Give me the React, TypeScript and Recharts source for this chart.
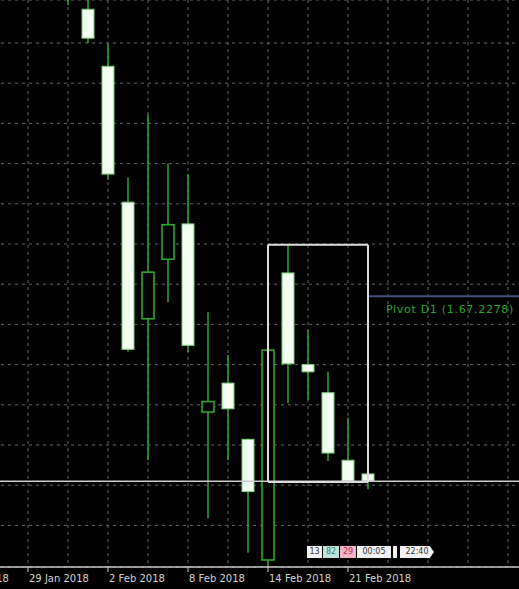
import { ComposedChart, Bar, XAxis, YAxis, CartesianGrid, ReferenceLine } from "recharts";

// daily bars, one category per trading day (the first few sit left of the visible area)
const dates = [
  "23 Jan 2018", "24 Jan 2018", "25 Jan 2018", "26 Jan 2018", "29 Jan 2018", "30 Jan 2018",
  "31 Jan 2018", "1 Feb 2018", "2 Feb 2018", "5 Feb 2018", "6 Feb 2018", "7 Feb 2018",
  "8 Feb 2018", "9 Feb 2018", "12 Feb 2018", "13 Feb 2018", "14 Feb 2018", "15 Feb 2018",
  "16 Feb 2018", "20 Feb 2018", "21 Feb 2018", "22 Feb 2018", "23 Feb 2018", "26 Feb 2018",
  "27 Feb 2018", "28 Feb 2018", "1 Mar 2018", "2 Mar 2018", "5 Mar 2018", "6 Mar 2018",
];
const labelDates = ["23 Jan 2018", "29 Jan 2018", "2 Feb 2018", "8 Feb 2018", "14 Feb 2018", "21 Feb 2018"];
const gridDates = dates.filter((_, i) => i % 2 === 0);

const candleDates = [
  "31 Jan 2018", "1 Feb 2018", "2 Feb 2018", "5 Feb 2018", "6 Feb 2018", "7 Feb 2018",
  "8 Feb 2018", "9 Feb 2018", "12 Feb 2018", "13 Feb 2018", "14 Feb 2018", "15 Feb 2018",
  "16 Feb 2018", "20 Feb 2018", "21 Feb 2018", "22 Feb 2018",
];
const opens = [1.4428, 1.4342, 1.4271, 1.4102, 1.3957, 1.4031, 1.4075, 1.3841, 1.3877, 1.3807, 1.3657, 1.4014, 1.39, 1.3865, 1.3781, 1.3764];
const highs = [1.4453, 1.4372, 1.4299, 1.4133, 1.4211, 1.415, 1.4137, 1.3965, 1.3912, 1.3808, 1.3919, 1.4049, 1.3943, 1.3891, 1.3834, 1.3766];
const lows = [1.4347, 1.43, 1.413, 1.3916, 1.3781, 1.3978, 1.3916, 1.3709, 1.3781, 1.3666, 1.3604, 1.3852, 1.3856, 1.378, 1.3753, 1.3745];
const closes = [1.4378, 1.4306, 1.4137, 1.3919, 1.4015, 1.4074, 1.3924, 1.3854, 1.3845, 1.3742, 1.3918, 1.3901, 1.3891, 1.379, 1.3755, 1.3755];

const priceTicks = [1.37, 1.375, 1.38, 1.385, 1.39, 1.395, 1.4, 1.405, 1.41, 1.415, 1.42, 1.425, 1.43];
const priceDomain = [1.364826, 1.435348];
const currentPrice = 1.3755;

const boxFrom = "14 Feb 2018";
const boxTo = "22 Feb 2018";
const boxTop = 1.4049;
const boxBottom = 1.3754;

const pivotPrice = 1.3985;
const pivotFrom = "22 Feb 2018";
const pivotTo = "6 Mar 2018";
const pivotLabel = "Pivot D1 (1.67.2278)";

const timerLabels = ["13", "82", "29", "00:05", "|", "22:40"];

const data = dates.map((date) => {
  const j = candleDates.indexOf(date);
  if (j < 0) return { date, range: null };
  return { date, open: opens[j], high: highs[j], low: lows[j], close: closes[j], range: [lows[j], highs[j]] };
});

const Candle = (props: any) => {
  const { x, y, width, height, payload } = props;
  if (!payload || payload.high == null) return null;
  const top = Math.min(y, y + height);
  const h = Math.abs(height);
  const px = h / (payload.high - payload.low);
  const toY = (p: number) => top + (payload.high - p) * px;
  const cx = x + width / 2;
  const bull = payload.close > payload.open;
  const bTop = toY(Math.max(payload.open, payload.close));
  const bBot = toY(Math.min(payload.open, payload.close));
  const bw = 12;
  return (
    <g>
      <line x1={cx} x2={cx} y1={top} y2={top + h} stroke="#2f9e2f" strokeWidth={1.6} />
      <rect
        x={cx - bw / 2}
        y={bTop}
        width={bw}
        height={Math.max(bBot - bTop, 2)}
        fill={bull ? "#000" : "#f3fff0"}
        stroke={bull ? "#2fa52f" : "#7fd07f"}
        strokeWidth={bull ? 1.6 : 1}
      />
    </g>
  );
};

const DateTick = (props: any) => {
  const { x, y, payload } = props;
  return (
    <text x={x + 1} y={y} dy={8} fill="#d2d2d2" fontSize={10} fontFamily="DejaVu Sans" textAnchor="start">
      {payload.value}
    </text>
  );
};

// vertical grid on every second day, placed through the x axis scale
const gridXs = (p: any) => {
  const scale = p.xAxis && p.xAxis.scale;
  if (scale && typeof scale === "function") {
    const bw = typeof scale.bandwidth === "function" ? scale.bandwidth() : 0;
    return gridDates.map((d) => scale(d) + bw / 2);
  }
  const step = p.offset.width / dates.length;
  return gridDates.map((d) => p.offset.left + (dates.indexOf(d) + 0.5) * step);
};

const timerStyles = [
  { left: 307, width: 15, background: "#f2f2f2", color: "#333" },
  { left: 323, width: 16, background: "#bfe6de", color: "#2f8278" },
  { left: 340, width: 16, background: "#f2b4c6", color: "#b02c50" },
  { left: 357, width: 34, background: "#f2f2f2", color: "#333" },
  { left: 393, width: 4, background: "#f2f2f2", color: "#f2f2f2" },
  { left: 400, width: 34, background: "#f2f2f2", color: "#333" },
];

export default function App() {
  return (
    <div style={{ position: "fixed", top: 0, left: 0, width: 519, height: 589, overflow: "hidden", background: "#000" }}>
      <div style={{ position: "absolute", top: 0, left: -62 }}>
        <ComposedChart width={600} height={589} data={data} margin={{ top: 0, right: 0, bottom: 0, left: 0 }}>
          <CartesianGrid stroke="#666" strokeDasharray="3 4" verticalCoordinatesGenerator={gridXs} />
          <XAxis
            dataKey="date"
            ticks={labelDates}
            interval={0}
            height={22}
            tick={<DateTick />}
            tickSize={5}
            axisLine={{ stroke: "#c8c8c8", strokeWidth: 1.5 }}
            tickLine={{ stroke: "#c8c8c8" }}
          />
          <YAxis hide domain={priceDomain} ticks={priceTicks} allowDataOverflow width={0} />
          <ReferenceLine y={currentPrice} stroke="#c8c8c8" strokeWidth={1.5} />
          <ReferenceLine
            segment={[{ x: pivotFrom, y: pivotPrice }, { x: pivotTo, y: pivotPrice }]}
            stroke="#46507e"
            strokeWidth={1.8}
            ifOverflow="visible"
            label={{
              content: (p: any) => (
                <text
                  x={p.viewBox.x + 18}
                  y={p.viewBox.y + 17}
                  fill="#2fa52f"
                  fontSize={11}
                  letterSpacing={0.7}
                  fontFamily="DejaVu Sans"
                >
                  {pivotLabel}
                </text>
              ),
            }}
          />
          <Bar dataKey="range" barSize={12} shape={<Candle />} isAnimationActive={false} />
          <ReferenceLine segment={[{ x: boxFrom, y: boxTop }, { x: boxTo, y: boxTop }]} stroke="#dcdcdc" strokeWidth={2} />
          <ReferenceLine segment={[{ x: boxFrom, y: boxBottom }, { x: boxTo, y: boxBottom }]} stroke="#dcdcdc" strokeWidth={2} />
          <ReferenceLine segment={[{ x: boxFrom, y: boxTop }, { x: boxFrom, y: boxBottom }]} stroke="#dcdcdc" strokeWidth={2} />
          <ReferenceLine segment={[{ x: boxTo, y: boxTop }, { x: boxTo, y: boxBottom }]} stroke="#dcdcdc" strokeWidth={2} />
        </ComposedChart>
      </div>
      {timerLabels.map((t, i) => (
        <div
          key={i}
          style={{
            position: "absolute",
            top: 546,
            height: 12,
            left: timerStyles[i].left,
            width: timerStyles[i].width,
            background: timerStyles[i].background,
            color: timerStyles[i].color,
            fontSize: 8,
            lineHeight: "12px",
            fontFamily: "DejaVu Sans",
            textAlign: "center",
            overflow: "hidden",
            clipPath: i === 5 ? "polygon(0 0, 88% 0, 100% 50%, 88% 100%, 0 100%)" : undefined,
          }}
        >
          {t}
        </div>
      ))}
    </div>
  );
}
